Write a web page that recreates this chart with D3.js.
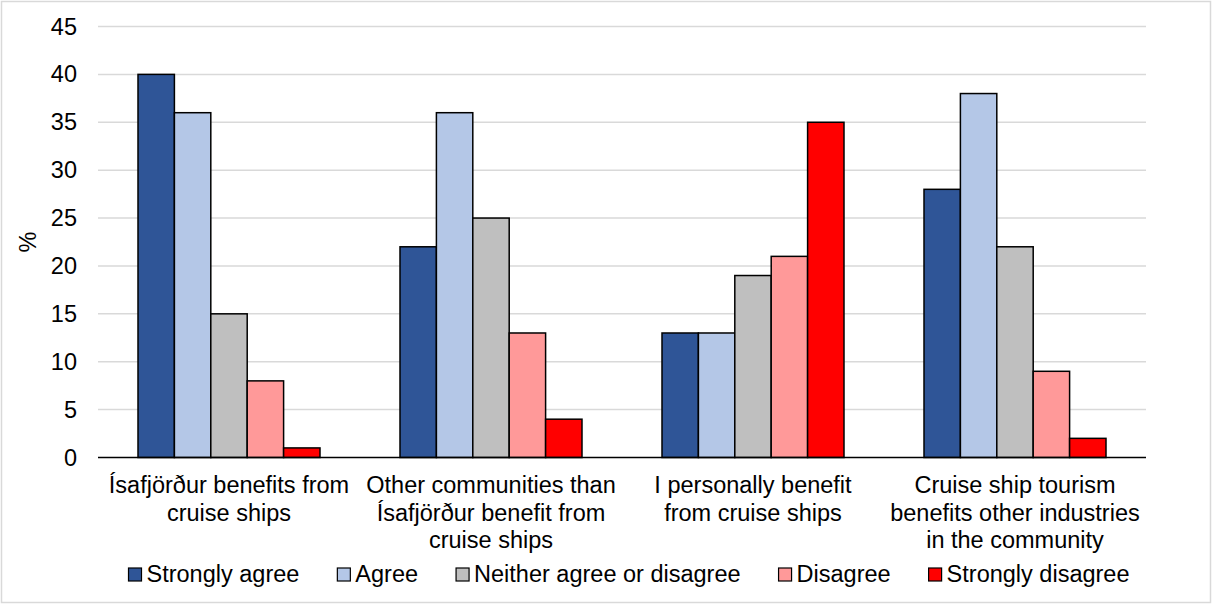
<!DOCTYPE html>
<html>
<head>
<meta charset="utf-8">
<script src="https://cdn.jsdelivr.net/npm/d3@7"></script>
<style>
  html, body { margin: 0; padding: 0; background: #fff; }
  svg text { font-family: "Liberation Sans", Arial, sans-serif; fill: #000; }
</style>
</head>
<body>
<svg id="chart" width="1212" height="604"></svg>
<script>
// Survey statements (x categories), each label split into lines
const categories = [
  ["Ísafjörður benefits from", "cruise ships"],
  ["Other communities than", "Ísafjörður benefit from", "cruise ships"],
  ["I personally benefit", "from cruise ships"],
  ["Cruise ship tourism", "benefits other industries", "in the community"]
];

// Response options (series)
const seriesNames = ["Strongly agree", "Agree", "Neither agree or disagree", "Disagree", "Strongly disagree"];
const seriesColors = ["#2F5597", "#B4C7E7", "#BFBFBF", "#FF9999", "#FF0000"];

// Share of respondents (%) per series, one value per statement
const stronglyAgree    = [40, 22, 13, 28];
const agree            = [36, 36, 13, 38];
const neither          = [15, 25, 19, 22];
const disagree         = [8, 13, 21, 9];
const stronglyDisagree = [1, 4, 35, 2];
const seriesValues = [stronglyAgree, agree, neither, disagree, stronglyDisagree];

const yTicks = [0, 5, 10, 15, 20, 25, 30, 35, 40, 45];

const svg = d3.select("#chart");
const W = 1212, H = 604;
const plot = { left: 98, right: 1146, top: 26.5, bottom: 457.5 };
const fontSize = 23.5;

// outer frame
svg.append("rect")
  .attr("x", 1.5).attr("y", 1.5).attr("width", W - 3).attr("height", H - 3)
  .attr("fill", "#fff").attr("stroke", "#D9D9D9").attr("stroke-width", 1.5);

const y = d3.scaleLinear().domain([0, 45]).range([plot.bottom, plot.top]);
const x0 = d3.scaleBand().domain(d3.range(categories.length))
  .range([plot.left, plot.right]).padding(0);
const groupPad = 40;
const x1 = d3.scaleBand().domain(d3.range(seriesNames.length))
  .range([groupPad, x0.bandwidth() - groupPad]).padding(0);

// gridlines
svg.append("g").selectAll("line")
  .data(yTicks.filter(d => d > 0))
  .join("line")
  .attr("x1", plot.left).attr("x2", plot.right)
  .attr("y1", d => y(d)).attr("y2", d => y(d))
  .attr("stroke", "#D9D9D9").attr("stroke-width", 1.5);

// y axis labels
const yAxis = d3.axisLeft(y).tickValues(yTicks).tickSize(0).tickPadding(21);
svg.append("g")
  .attr("transform", `translate(${plot.left},0)`)
  .call(yAxis)
  .call(g => g.select(".domain").remove())
  .call(g => g.selectAll("text")
    .attr("font-size", fontSize)
    .style("font-family", '"Liberation Sans", Arial, sans-serif')
    .attr("fill", "#000"));

// y axis title
svg.append("text")
  .attr("transform", `translate(36,${(plot.top + plot.bottom) / 2}) rotate(-90)`)
  .attr("text-anchor", "middle")
  .attr("font-size", fontSize)
  .attr("fill", "#595959")
  .text("%");

// bars
const groups = svg.append("g").selectAll("g")
  .data(categories.map((c, i) => i))
  .join("g")
  .attr("transform", i => `translate(${x0(i)},0)`);

groups.selectAll("rect")
  .data(i => seriesValues.map((vals, s) => ({ s, v: vals[i] })))
  .join("rect")
  .attr("x", d => x1(d.s))
  .attr("y", d => y(d.v))
  .attr("width", x1.bandwidth())
  .attr("height", d => y(0) - y(d.v))
  .attr("fill", d => seriesColors[d.s])
  .attr("stroke", "#000")
  .attr("stroke-width", 1.5);

// baseline
svg.append("line")
  .attr("x1", plot.left).attr("x2", plot.right)
  .attr("y1", y(0)).attr("y2", y(0))
  .attr("stroke", "#000").attr("stroke-width", 1.5);

// category labels
const catLabels = svg.append("g").selectAll("text")
  .data(categories)
  .join("text")
  .attr("text-anchor", "middle")
  .attr("font-size", fontSize)
  .attr("x", (d, i) => x0(i) + x0.bandwidth() / 2)
  .attr("y", 493);
catLabels.selectAll("tspan")
  .data(d => d)
  .join("tspan")
  .attr("x", function () { return this.parentNode.getAttribute("x"); })
  .attr("dy", (d, i) => i === 0 ? 0 : 27.5)
  .text(d => d);

// legend
const legend = svg.append("g");
const sw = 13, swGap = 5, itemGap = 38;
const items = legend.selectAll("g")
  .data(seriesNames)
  .join("g");
items.append("rect")
  .attr("x", 0).attr("y", 568)
  .attr("width", sw).attr("height", sw)
  .attr("fill", (d, i) => seriesColors[i])
  .attr("stroke", "#000").attr("stroke-width", 1.2);
items.append("text")
  .attr("x", sw + swGap).attr("y", 582)
  .attr("font-size", fontSize)
  .text(d => d);
let widths = [];
items.each(function () {
  widths.push(sw + swGap + d3.select(this).select("text").node().getComputedTextLength());
});
const total = d3.sum(widths) + itemGap * (widths.length - 1);
let cx = 629 - total / 2;
items.each(function (d, i) {
  d3.select(this).attr("transform", `translate(${cx},0)`);
  cx += widths[i] + itemGap;
});
</script>
</body>
</html>
